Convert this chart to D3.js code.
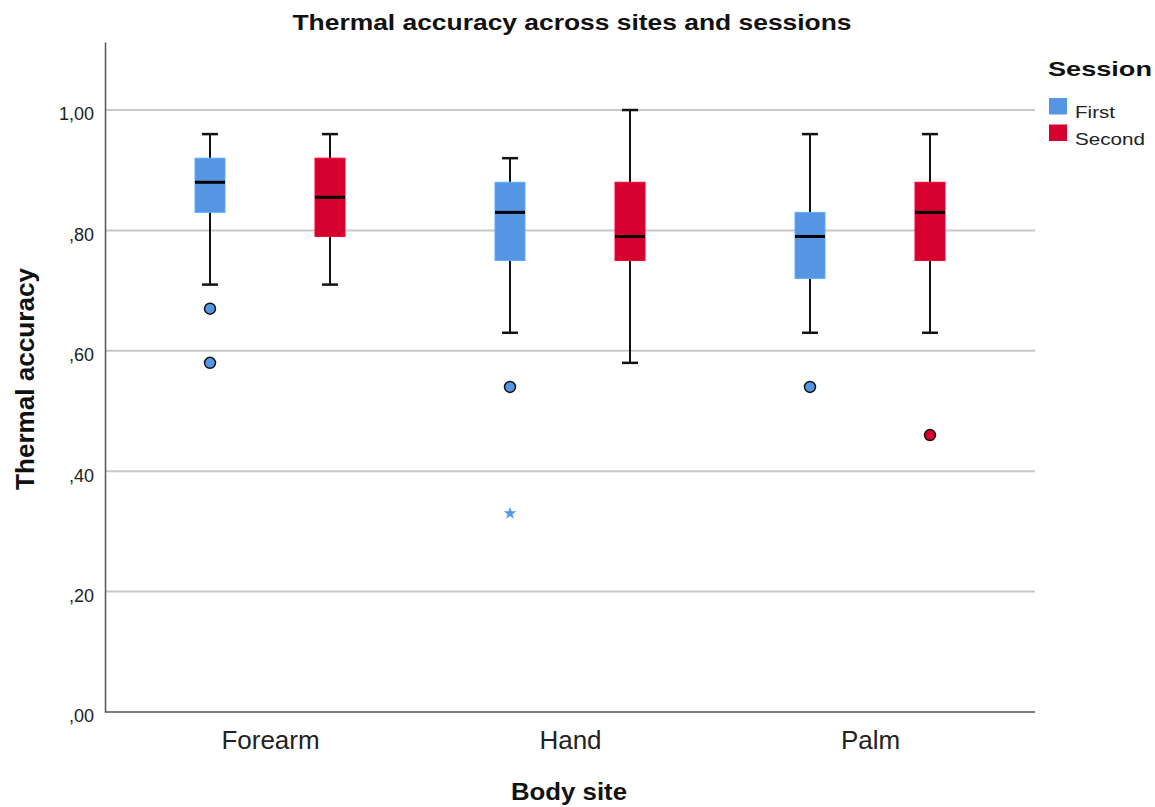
<!DOCTYPE html>
<html><head><meta charset="utf-8">
<script src="https://cdn.jsdelivr.net/npm/d3@7"></script>
<style>body{margin:0;background:#fff;}svg{font-family:Arial,"Liberation Sans",sans-serif;}</style>
</head><body>
<svg id="chart" width="1155" height="807"></svg>
<script>
const sites = ["Forearm", "Hand", "Palm"];
const sessions = ["First", "Second"];
const colors = ["#5496e3", "#d6002f"];
// [lowWhisker, q1, median, q3, highWhisker] per site, per session
const firstStats = [[0.71, 0.83, 0.88, 0.92, 0.96], [0.63, 0.75, 0.83, 0.88, 0.92], [0.63, 0.72, 0.79, 0.83, 0.96]];
const secondStats = [[0.71, 0.79, 0.855, 0.92, 0.96], [0.58, 0.75, 0.79, 0.88, 1.00], [0.63, 0.75, 0.83, 0.88, 0.96]];
// outliers: [site, session, value]
const outliers = [["Forearm", "First", 0.67], ["Forearm", "First", 0.58], ["Hand", "First", 0.54], ["Palm", "First", 0.54], ["Palm", "Second", 0.46]];
const extremes = [["Hand", "First", 0.33]];
const yTicks = [0, 0.2, 0.4, 0.6, 0.8, 1.0];

const svg = d3.select("#chart");
const pLeft = 105, pRight = 1035, pTop = 42, pBottom = 712;
const y = d3.scaleLinear().domain([0, 1.113]).range([pBottom, pTop]);
const x = d3.scalePoint().domain(sites).range([pLeft, pRight]).padding(0.55);
const xs = d3.scalePoint().domain(sessions).range([-60, 60]);
const fmt = v => d3.format(".2f")(v).replace(".", ",").replace(/^0/, "");

// gridlines
svg.append("g").selectAll("line").data(yTicks.filter(d => d > 0)).join("line")
  .attr("x1", pLeft).attr("x2", pRight).attr("y1", d => y(d)).attr("y2", d => y(d))
  .attr("stroke", "#c8c8c8").attr("stroke-width", 2);

// axes
const yAxis = d3.axisLeft(y).tickValues(yTicks).tickFormat(fmt).tickSize(0).tickPadding(11);
const gy = svg.append("g").attr("transform", `translate(${pLeft},0)`).call(yAxis);
gy.select(".domain").attr("stroke", "#555").attr("stroke-width", 1.5);
gy.selectAll("text").attr("font-size", 18).attr("dy", "0.55em").attr("fill", "#222").attr("font-family", "Arial,'Liberation Sans',sans-serif");
const xAxis = d3.axisBottom(x).tickSize(0).tickPadding(23);
const gx = svg.append("g").attr("transform", `translate(0,${pBottom})`).call(xAxis);
gx.select(".domain").attr("stroke", "#555").attr("stroke-width", 1.5).attr("d", `M${pLeft},0H${pRight}`);
gx.selectAll("text").attr("font-size", 26).attr("dy", "0.55em").attr("fill", "#222").attr("font-family", "Arial,'Liberation Sans',sans-serif");

const boxW = 30, capW = 16;
const data = [];
sites.forEach((s, i) => {
  data.push({site: s, session: "First", st: firstStats[i], c: colors[0]});
  data.push({site: s, session: "Second", st: secondStats[i], c: colors[1]});
});
const g = svg.append("g").selectAll("g").data(data).join("g")
  .attr("transform", d => `translate(${x(d.site) + xs(d.session)},0)`);
g.append("line").attr("x1", 0).attr("x2", 0).attr("y1", d => y(d.st[0])).attr("y2", d => y(d.st[4]))
  .attr("stroke", "#111").attr("stroke-width", 2);
g.append("line").attr("x1", -capW/2).attr("x2", capW/2).attr("y1", d => y(d.st[0])).attr("y2", d => y(d.st[0]))
  .attr("stroke", "#111").attr("stroke-width", 2.5);
g.append("line").attr("x1", -capW/2).attr("x2", capW/2).attr("y1", d => y(d.st[4])).attr("y2", d => y(d.st[4]))
  .attr("stroke", "#111").attr("stroke-width", 2.5);
g.append("rect").attr("x", -boxW/2).attr("width", boxW)
  .attr("y", d => y(d.st[3])).attr("height", d => y(d.st[1]) - y(d.st[3]))
  .attr("fill", d => d.c).attr("stroke", d => d3.color(d.c).brighter(0.4)).attr("stroke-width", 1);
g.append("line").attr("x1", -boxW/2).attr("x2", boxW/2).attr("y1", d => y(d.st[2])).attr("y2", d => y(d.st[2]))
  .attr("stroke", "#000").attr("stroke-width", 3);

// outliers
svg.append("g").selectAll("circle").data(outliers).join("circle")
  .attr("cx", d => x(d[0]) + xs(d[1])).attr("cy", d => y(d[2])).attr("r", 5.5)
  .attr("fill", d => colors[sessions.indexOf(d[1])]).attr("stroke", "#111").attr("stroke-width", 1.5);
const star = d3.symbol().type(d3.symbolStar).size(50);
svg.append("g").selectAll("path").data(extremes).join("path")
  .attr("d", star).attr("transform", d => `translate(${x(d[0]) + xs(d[1])},${y(d[2])})`)
  .attr("fill", d => colors[sessions.indexOf(d[1])]);

// titles
svg.append("text").attr("x", 572).attr("y", 30).attr("text-anchor", "middle")
  .attr("font-size", 22).attr("font-weight", "bold").attr("fill", "#111")
  .attr("textLength", 559).attr("lengthAdjust", "spacingAndGlyphs").text("Thermal accuracy across sites and sessions");
svg.append("text").attr("x", 569).attr("y", 800).attr("text-anchor", "middle")
  .attr("font-size", 23).attr("font-weight", "bold").attr("fill", "#111")
  .attr("textLength", 116).attr("lengthAdjust", "spacingAndGlyphs").text("Body site");
svg.append("text").attr("transform", `translate(34,379) rotate(-90)`).attr("text-anchor", "middle")
  .attr("font-size", 25).attr("font-weight", "bold").attr("fill", "#111")
  .attr("textLength", 222).attr("lengthAdjust", "spacingAndGlyphs").text("Thermal accuracy");

// legend
svg.append("text").attr("x", 1048).attr("y", 76).attr("font-size", 21).attr("font-weight", "bold").attr("fill", "#111")
  .attr("textLength", 104).attr("lengthAdjust", "spacingAndGlyphs").text("Session");
const lg = svg.append("g").selectAll("g").data(sessions).join("g")
  .attr("transform", (d, i) => `translate(1049,${98 + i * 26.5})`);
lg.append("rect").attr("width", 18).attr("height", 16.5).attr("fill", (d, i) => colors[i]);
lg.append("text").attr("x", 26).attr("y", 20).attr("font-size", 17).attr("fill", "#222")
  .attr("textLength", d => d === "First" ? 40 : 70).attr("lengthAdjust", "spacingAndGlyphs").text(d => d);
</script>
</body></html>
